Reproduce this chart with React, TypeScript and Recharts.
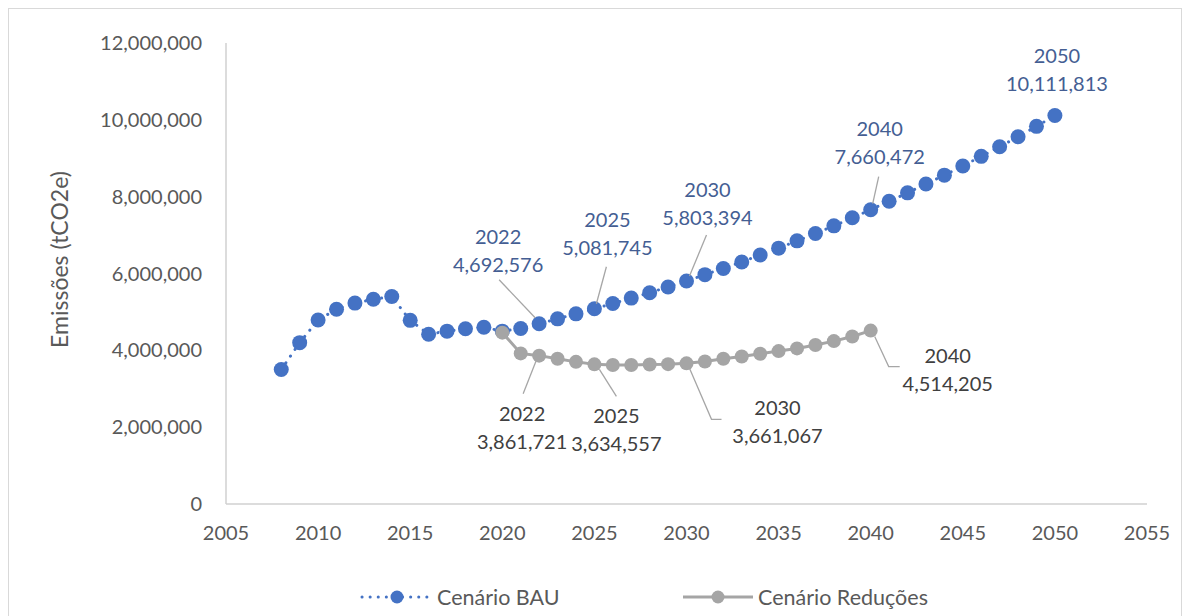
import React from 'react';
import { LineChart, Line, XAxis, YAxis, LabelList, Legend } from 'recharts';

const bauYears = [
  2008, 2009, 2010, 2011, 2012, 2013, 2014, 2015, 2016, 2017, 2018, 2019, 2020,
  2021, 2022, 2023, 2024, 2025, 2026, 2027, 2028, 2029, 2030, 2031, 2032, 2033,
  2034, 2035, 2036, 2037, 2038, 2039, 2040, 2041, 2042, 2043, 2044, 2045, 2046,
  2047, 2048, 2049, 2050,
];
const bauValues = [
  3500000, 4200000, 4790000, 5070000, 5230000, 5330000, 5400000, 4780000, 4420000,
  4500000, 4560000, 4600000, 4500000, 4570000, 4692576, 4820000, 4950000, 5081745,
  5220000, 5360000, 5500000, 5650000, 5803394, 5970000, 6130000, 6300000, 6480000,
  6660000, 6850000, 7040000, 7240000, 7450000, 7660472, 7880000, 8100000, 8330000,
  8560000, 8800000, 9050000, 9300000, 9560000, 9830000, 10111813,
];
const redYears = [
  2020, 2021, 2022, 2023, 2024, 2025, 2026, 2027, 2028, 2029, 2030, 2031, 2032,
  2033, 2034, 2035, 2036, 2037, 2038, 2039, 2040,
];
const redValues = [
  4460000, 3920000, 3861721, 3780000, 3700000, 3634557, 3620000, 3620000, 3630000,
  3640000, 3661067, 3710000, 3780000, 3840000, 3910000, 3980000, 4050000, 4140000,
  4240000, 4360000, 4514205,
];
const xTicks = [2005, 2010, 2015, 2020, 2025, 2030, 2035, 2040, 2045, 2050, 2055];
const yTicks = [0, 2000000, 4000000, 6000000, 8000000, 10000000, 12000000];
const bauLabelYears = [2022, 2025, 2030, 2040, 2050];
const redLabelYears = [2022, 2025, 2030, 2040];
const seriesNames = ['Cenário BAU', 'Cenário Reduções'];
const yAxisTitle = 'Emissões (tCO2e)';

const bauData = bauYears.map((year, i) => ({ year, value: bauValues[i] }));
const redData = redYears.map((year, i) => ({ year, value: redValues[i] }));

const BLUE = '#4472C4';
const GRAY = '#A5A5A5';
const BLUE_TEXT = '#445E93';
const GRAY_TEXT = '#404040';
const AXIS_TEXT = '#595959';
const LEADER = '#A6A6A6';
const FONT = 'Lato, "Open Sans", sans-serif';

// label placement styles (offsets from the data point, in px)
const bauLabelStyle: Record<number, { dx: number; dy: number; lead: number[][] }> = {
  2022: { dx: -41, dy: -88, lead: [[-4, -6], [-40, -44]] },
  2025: { dx: 13, dy: -90, lead: [[2, -5], [12, -42]] },
  2030: { dx: 21, dy: -92, lead: [[3, -5], [20, -46]] },
  2040: { dx: 9, dy: -82, lead: [[2, -6], [8, -33]] },
  2050: { dx: 2, dy: -61, lead: [] },
};
const redLabelStyle: Record<number, { dx: number; dy: number; lead: number[][] }> = {
  2022: { dx: -17, dy: 57, lead: [[-3, 5], [-16, 38]] },
  2025: { dx: 22, dy: 51, lead: [[5, 5], [22, 32]] },
  2030: { dx: 91, dy: 44, lead: [[3, 5], [25, 56], [35, 56]] },
  2040: { dx: 77, dy: 24, lead: [[4, 6], [18, 36], [29, 36]] },
};
const LINE_GAP = 28;

const fmt = (v: number) => v.toLocaleString('en-US');

function makeLabel(
  years: number[],
  labelYears: number[],
  styles: Record<number, { dx: number; dy: number; lead: number[][] }>,
  color: string
) {
  return (props: any) => {
    const { x, y, index, value } = props;
    const year = years[index];
    if (!labelYears.includes(year) || x == null || y == null) return null;
    const s = styles[year];
    const pts = s.lead.map(([a, b]) => `${x + a},${y + b}`).join(' ');
    return (
      <g key={`lbl-${year}`}>
        {s.lead.length > 0 && (
          <polyline points={pts} fill="none" stroke={LEADER} strokeWidth={1.3} />
        )}
        <text
          x={x + s.dx}
          y={y + s.dy}
          textAnchor="middle"
          dominantBaseline="central"
          fill={color}
          fontSize={20}
          fontFamily={FONT}
        >
          {String(year)}
        </text>
        <text
          x={x + s.dx}
          y={y + s.dy + LINE_GAP}
          textAnchor="middle"
          dominantBaseline="central"
          fill={color}
          fontSize={20}
          fontFamily={FONT}
        >
          {fmt(value)}
        </text>
      </g>
    );
  };
}

const makeDot = (color: string, r: number) => (props: any) => {
  const { cx, cy, index } = props;
  if (cx == null || cy == null) return <g key={`d-${index}`} />;
  return <circle key={`d-${index}`} cx={cx} cy={cy} r={r} fill={color} stroke="none" />;
};

const YTitle = (props: any) => {
  const vb = props.viewBox || { x: 0, y: 0, width: 0, height: 0 };
  const cx = vb.x + 50;
  const cy = vb.y + vb.height / 2 - 14;
  return (
    <text
      x={cx}
      y={cy}
      transform={`rotate(-90, ${cx}, ${cy})`}
      textAnchor="middle"
      dominantBaseline="central"
      fill={AXIS_TEXT}
      fontSize={23}
      fontFamily={FONT}
    >
      {yAxisTitle}
    </text>
  );
};

const LegendContent = () => (
  <div
    style={{
      display: 'flex',
      alignItems: 'center',
      height: 30,
      paddingLeft: 351,
      fontFamily: FONT,
      fontSize: 21.5,
      color: AXIS_TEXT,
    }}
  >
    <div style={{ display: 'flex', alignItems: 'center', width: 323 }}>
      <svg width={70} height={20}>
        <line x1={2} y1={10} x2={68} y2={10} stroke={BLUE} strokeWidth={3} strokeDasharray="0.1 8" strokeLinecap="round" />
        <circle cx={37} cy={10} r={6.5} fill={BLUE} />
      </svg>
      <span style={{ marginLeft: 7 }}>{seriesNames[0]}</span>
    </div>
    <div style={{ display: 'flex', alignItems: 'center' }}>
      <svg width={70} height={20}>
        <line x1={0} y1={10} x2={70} y2={10} stroke={GRAY} strokeWidth={3} />
        <circle cx={35} cy={10} r={6.5} fill={GRAY} />
      </svg>
      <span style={{ marginLeft: 5 }}>{seriesNames[1]}</span>
    </div>
  </div>
);

export default function App() {
  return (
    <div
      style={{
        position: 'relative',
        width: 1174,
        height: 640,
        border: '1px solid #d9d9d9',
        boxSizing: 'border-box',
        background: '#fff',
        fontFamily: FONT,
      }}
    >
      <LineChart
        width={1172}
        height={600}
        margin={{ top: 34, right: 34, bottom: 35, left: 0 }}
      >
        <XAxis
          type="number"
          dataKey="year"
          domain={[2005, 2055]}
          ticks={xTicks}
          allowDuplicatedCategory={false}
          tickLine={false}
          tickSize={0}
          tickMargin={22}
          height={40}
          axisLine={{ stroke: '#d0d0d0', strokeWidth: 1.5 }}
          tick={{ fill: AXIS_TEXT, fontSize: 20, fontFamily: FONT }}
          interval={0}
        />
        <YAxis
          type="number"
          domain={[0, 12000000]}
          ticks={yTicks}
          width={217}
          tickLine={false}
          tickSize={0}
          tickMargin={24}
          axisLine={{ stroke: '#d0d0d0', strokeWidth: 1.5 }}
          tick={{ fill: AXIS_TEXT, fontSize: 20, fontFamily: FONT }}
          tickFormatter={fmt}
          interval={0}
          label={<YTitle />}
        />
        <Legend
          content={<LegendContent />}
          verticalAlign="bottom"
          wrapperStyle={{ position: 'absolute', left: 0, top: 573, width: 1172, height: 30 }}
        />
        <Line
          data={bauData}
          dataKey="value"
          name={seriesNames[0]}
          stroke={BLUE}
          strokeWidth={3}
          strokeDasharray="0.1 8"
          strokeLinecap="round"
          dot={makeDot(BLUE, 7.5)}
          activeDot={false}
          isAnimationActive={false}
        >
          <LabelList
            dataKey="value"
            content={makeLabel(bauYears, bauLabelYears, bauLabelStyle, BLUE_TEXT)}
          />
        </Line>
        <Line
          data={redData}
          dataKey="value"
          name={seriesNames[1]}
          stroke={GRAY}
          strokeWidth={3}
          dot={makeDot(GRAY, 7)}
          activeDot={false}
          isAnimationActive={false}
        >
          <LabelList
            dataKey="value"
            content={makeLabel(redYears, redLabelYears, redLabelStyle, GRAY_TEXT)}
          />
        </Line>
      </LineChart>
    </div>
  );
}
